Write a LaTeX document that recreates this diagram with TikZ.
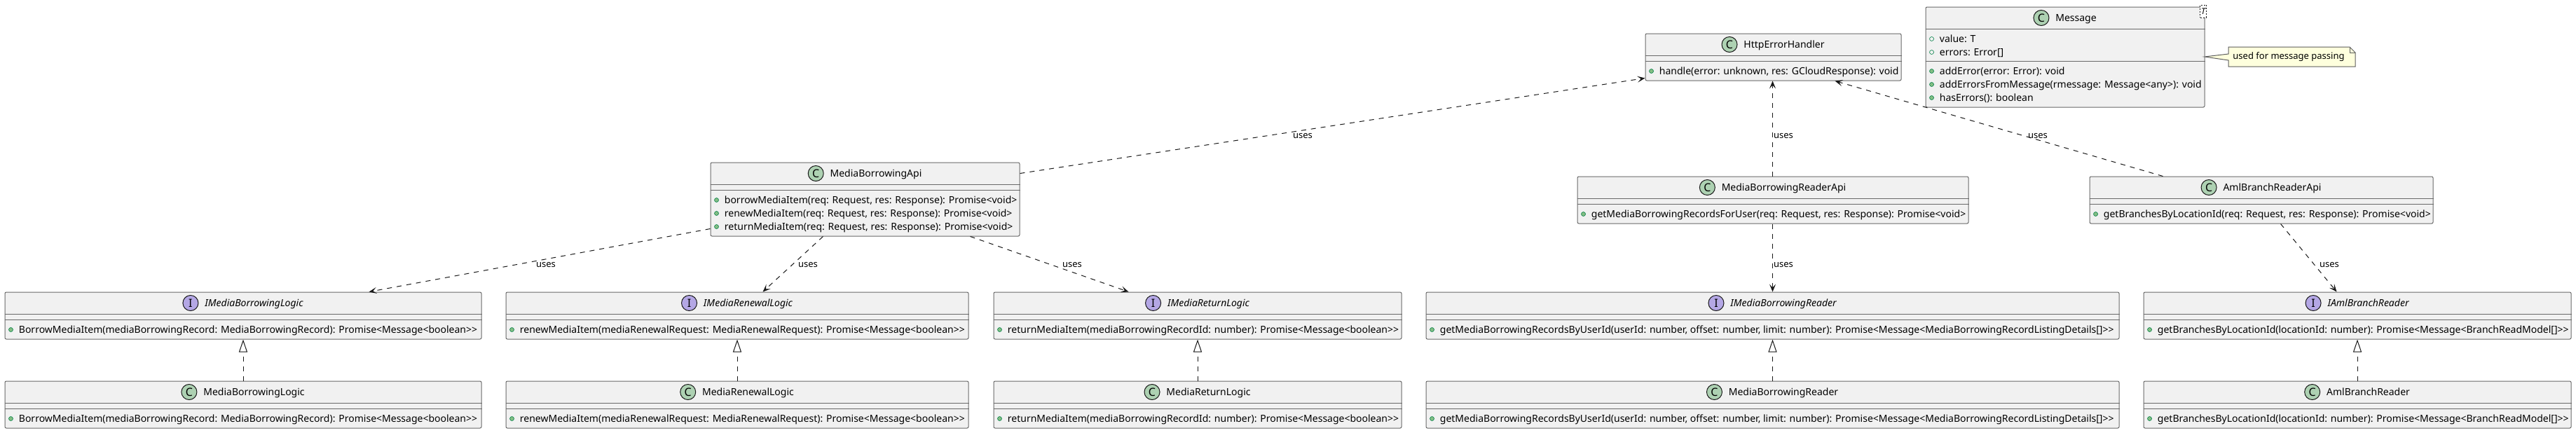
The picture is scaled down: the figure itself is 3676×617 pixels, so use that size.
\documentclass[tikz,border=0pt]{standalone}
\usepackage{fontspec}
\setmainfont{Noto Sans}[Ligatures=TeXOff]
\usetikzlibrary{arrows.meta,calc,fit}
\definecolor{boxfill}{HTML}{F1F1F1}
\definecolor{boxline}{HTML}{181818}
\definecolor{cfill}{HTML}{ADD1B2}
\definecolor{ifill}{HTML}{B4A7E5}
\definecolor{dotfill}{HTML}{84BE84}
\definecolor{dotline}{HTML}{038048}
\definecolor{notefill}{HTML}{FEFFDD}
\tikzset{
  umlbox/.style={draw=boxline!65, fill=boxfill, line width=0.5pt, inner sep=0pt, rounded corners=1pt},
  sepline/.style={draw=boxline!65, line width=0.5pt},
  memtext/.style={inner sep=0pt, anchor=base west, font=\fontsize{7pt}{8.4pt}\selectfont},
  titletext/.style={inner sep=0pt, anchor=base, font=\fontsize{7pt}{8.4pt}\selectfont},
  lbl/.style={inner sep=0pt, font=\fontsize{6.5pt}{7.8pt}\selectfont},
  kindcirc/.style={circle, draw=boxline, line width=0.5pt, minimum size=11pt, inner sep=0pt, font=\fontsize{8pt}{8pt}\selectfont\bfseries},
  pubm/.style={circle, fill=dotfill, draw=dotline, line width=0.3pt, minimum size=3pt, inner sep=0pt},
  pubf/.style={circle, draw=dotline, line width=0.3pt, minimum size=3pt, inner sep=0pt},
  dep/.style={draw=boxline, line width=0.5pt, dash pattern=on 3.5pt off 3.5pt, -{Stealth[length=5.5pt,width=4.5pt,inset=2.5pt]}},
  realiz/.style={draw=boxline, line width=0.5pt, dash pattern=on 3.5pt off 3.5pt, -{Triangle[open,length=9pt,width=6pt,fill=white]}}
}
\newcount\umlrowno
\newcommand\umlhead[4]{%
  \node[titletext] (#1t) at ($(#1.north)+(15.5,21)$) {#4};
  \node[kindcirc, fill=#3] (#1k) at ($(#1t.base west)+(-20,-5)$) {#2};
  \draw[sepline] ($(#1.north west)+(0,32)$) -- ($(#1.north east)+(0,32)$);
}
\newcommand\umlsep[2]{%
  \draw[sepline] ($(#1.north west)+(0,#2)$) -- ($(#1.north east)+(0,#2)$);
}
\newcommand\umlrow[4]{%
  \global\advance\umlrowno by 1
  \node[#3] (dot\the\umlrowno) at ($(#1.north west)+(9,#2)$) {};
  \node[memtext] (mem\the\umlrowno) at ($(#1.north west)+(20,#2+5)$) {#4};
}
\begin{document}
\begin{tikzpicture}[x=0.5pt,y=-0.5pt]
\useasboundingbox (0,0) rectangle (3676,617);
\fill[white] (0,0) rectangle (3676,617);

% HttpErrorHandler
\node[umlbox, fit={(2348,48) (2713,115)}] (heh) {};
\umlhead{heh}{C}{cfill}{HttpErrorHandler}
\umlsep{heh}{40}
\umlrow{heh}{54}{pubm}{handle(error: unknown, res: GCloudResponse): void}

% Message
\node[umlbox, fit={(2748,10) (3146,153)}] (msg) {};
\umlhead{msg}{C}{cfill}{Message}
\umlrow{msg}{46}{pubf}{value: T}
\umlrow{msg}{65}{pubf}{errors: Error[]}
\umlsep{msg}{78}
\umlrow{msg}{92}{pubm}{addError(error: Error): void}
\umlrow{msg}{111}{pubm}{addErrorsFromMessage(rmessage: Message<any>): void}
\umlrow{msg}{130}{pubm}{hasErrors(): boolean}
\node[draw=boxline, dash pattern=on 1pt off 1pt, fill=white, inner sep=0.6pt, minimum height=9pt, font=\fontsize{6pt}{6pt}\selectfont\itshape] (tpar) at (3144,16) {T};

% note
\draw[draw=boxline!70, fill=notefill, line width=0.5pt] (3180,67) -- (3353,67) -- (3361,75) -- (3361,95) -- (3180,95) -- (3180,86) -- (3146,81) -- (3180,77) -- cycle;
\draw[draw=boxline!70, line width=0.5pt] (3353,67) -- (3353,75) -- (3361,75);
\node[lbl, anchor=west] (note) at (3186,81) {used for message passing};

% MediaBorrowingApi
\node[umlbox, fit={(1014,232) (1455,337)}] (mba) {};
\umlhead{mba}{C}{cfill}{MediaBorrowingApi}
\umlsep{mba}{40}
\umlrow{mba}{54}{pubm}{borrowMediaItem(req: Request, res: Response): Promise<void>}
\umlrow{mba}{73}{pubm}{renewMediaItem(req: Request, res: Response): Promise<void>}
\umlrow{mba}{92}{pubm}{returnMediaItem(req: Request, res: Response): Promise<void>}

% MediaBorrowingReaderApi
\node[umlbox, fit={(2251,252) (2809,319)}] (mbra) {};
\umlhead{mbra}{C}{cfill}{MediaBorrowingReaderApi}
\umlsep{mbra}{40}
\umlrow{mbra}{54}{pubm}{getMediaBorrowingRecordsForUser(req: Request, res: Response): Promise<void>}

% AmlBranchReaderApi
\node[umlbox, fit={(2982,252) (3472,319)}] (abra) {};
\umlhead{abra}{C}{cfill}{AmlBranchReaderApi}
\umlsep{abra}{40}
\umlrow{abra}{54}{pubm}{getBranchesByLocationId(req: Request, res: Response): Promise<void>}

% Interfaces
\node[umlbox, fit={(7,417) (687,484)}] (imbl) {};
\umlhead{imbl}{I}{ifill}{\itshape IMediaBorrowingLogic}
\umlsep{imbl}{40}
\umlrow{imbl}{54}{pubm}{BorrowMediaItem(mediaBorrowingRecord: MediaBorrowingRecord): Promise<Message<boolean>>}

\node[umlbox, fit={(722,417) (1382,484)}] (imrl) {};
\umlhead{imrl}{I}{ifill}{\itshape IMediaRenewalLogic}
\umlsep{imrl}{40}
\umlrow{imrl}{54}{pubm}{renewMediaItem(mediaRenewalRequest: MediaRenewalRequest): Promise<Message<boolean>>}

\node[umlbox, fit={(1418,417) (2000,484)}] (imretl) {};
\umlhead{imretl}{I}{ifill}{\itshape IMediaReturnLogic}
\umlsep{imretl}{40}
\umlrow{imretl}{54}{pubm}{returnMediaItem(mediaBorrowingRecordId: number): Promise<Message<boolean>>}

\node[umlbox, fit={(2035,417) (3024,484)}] (imbr) {};
\umlhead{imbr}{I}{ifill}{\itshape IMediaBorrowingReader}
\umlsep{imbr}{40}
\umlrow{imbr}{54}{pubm}{getMediaBorrowingRecordsByUserId(userId: number, offset: number, limit: number): Promise<Message<MediaBorrowingRecordListingDetails[]>>}

\node[umlbox, fit={(3059,417) (3669,484)}] (iabr) {};
\umlhead{iabr}{I}{ifill}{\itshape IAmlBranchReader}
\umlsep{iabr}{40}
\umlrow{iabr}{54}{pubm}{getBranchesByLocationId(locationId: number): Promise<Message<BranchReadModel[]>>}

% Classes
\node[umlbox, fit={(7,544) (687,611)}] (mbl) {};
\umlhead{mbl}{C}{cfill}{MediaBorrowingLogic}
\umlsep{mbl}{40}
\umlrow{mbl}{54}{pubm}{BorrowMediaItem(mediaBorrowingRecord: MediaBorrowingRecord): Promise<Message<boolean>>}

\node[umlbox, fit={(722,544) (1382,611)}] (mrl) {};
\umlhead{mrl}{C}{cfill}{MediaRenewalLogic}
\umlsep{mrl}{40}
\umlrow{mrl}{54}{pubm}{renewMediaItem(mediaRenewalRequest: MediaRenewalRequest): Promise<Message<boolean>>}

\node[umlbox, fit={(1418,544) (2000,611)}] (mretl) {};
\umlhead{mretl}{C}{cfill}{MediaReturnLogic}
\umlsep{mretl}{40}
\umlrow{mretl}{54}{pubm}{returnMediaItem(mediaBorrowingRecordId: number): Promise<Message<boolean>>}

\node[umlbox, fit={(2035,544) (3024,611)}] (mbr) {};
\umlhead{mbr}{C}{cfill}{MediaBorrowingReader}
\umlsep{mbr}{40}
\umlrow{mbr}{54}{pubm}{getMediaBorrowingRecordsByUserId(userId: number, offset: number, limit: number): Promise<Message<MediaBorrowingRecordListingDetails[]>>}

\node[umlbox, fit={(3059,544) (3669,611)}] (abr) {};
\umlhead{abr}{C}{cfill}{AmlBranchReader}
\umlsep{abr}{40}
\umlrow{abr}{54}{pubm}{getBranchesByLocationId(locationId: number): Promise<Message<BranchReadModel[]>>}

% dependencies
\draw[dep] ($(mba.north east)+(0,16)$) -- ($(heh.north west)+(0,64)$);
\draw[dep] ($(mbra.north west)+(279,0)$) -- ($(heh.south west)+(182,0)$);
\draw[dep] ($(abra.north west)+(105,0)$) -- ($(heh.south west)+(271,0)$);
\draw[dep] ($(mba.north west)+(0,95)$) -- ($(imbl.north west)+(520,0)$);
\draw[dep] ($(mba.south west)+(161,0)$) -- ($(imrl.north west)+(367,0)$);
\draw[dep] ($(mba.south west)+(371,0)$) -- ($(imretl.north west)+(193,0)$);
\draw[dep] ($(mbra.south west)+(279,0)$) -- ($(imbr.north west)+(495,0)$);
\draw[dep] ($(abra.south west)+(273,0)$) -- ($(iabr.north west)+(276,0)$);

% labels
\node[lbl] (u1) at (1859,194) {uses};
\node[lbl] (u2) at (2545,194) {uses};
\node[lbl] (u3) at (2908,194) {uses};
\node[lbl] (u4) at (779,378) {uses};
\node[lbl] (u5) at (1153,378) {uses};
\node[lbl] (u6) at (1530,378) {uses};
\node[lbl] (u7) at (2545,378) {uses};
\node[lbl] (u8) at (3324,378) {uses};

% realizations
\draw[realiz] (mbl.north) -- (imbl.south);
\draw[realiz] (mrl.north) -- (imrl.south);
\draw[realiz] (mretl.north) -- (imretl.south);
\draw[realiz] (mbr.north) -- (imbr.south);
\draw[realiz] (abr.north) -- (iabr.south);
\end{tikzpicture}
\end{document}
